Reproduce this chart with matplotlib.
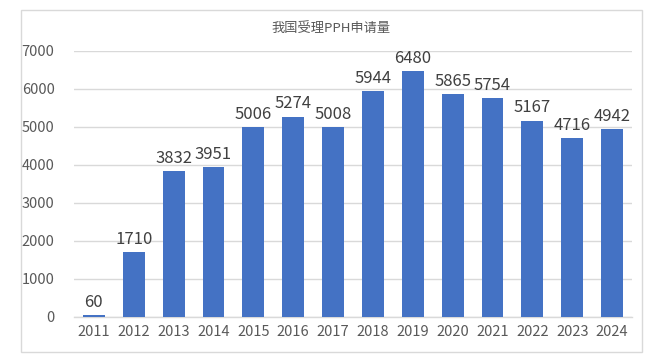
import matplotlib
matplotlib.use("Agg")
import matplotlib.pyplot as plt
from matplotlib.patches import Rectangle

plt.rcParams['font.family'] = ['Noto Sans CJK SC', 'DejaVu Sans']

years = ['2011', '2012', '2013', '2014', '2015', '2016', '2017', '2018',
         '2019', '2020', '2021', '2022', '2023', '2024']
values = [60, 1710, 3832, 3951, 5006, 5274, 5008, 5944, 6480, 5865, 5754, 5167, 4716, 4942]
yticks = [0, 1000, 2000, 3000, 4000, 5000, 6000, 7000]
title = '我国受理PPH申请量'

fig = plt.figure(figsize=(6.49, 3.64), dpi=100)
fig.patch.set_facecolor('white')
fig.patches.append(Rectangle((21/649, 1-352/364), (642-21)/649, (352-10)/364,
                             transform=fig.transFigure, fill=False,
                             edgecolor='#D9D9D9', linewidth=1.0))

ax = fig.add_axes([74/649, 1-317/364, (632-74)/649, (317-51)/364])
x = list(range(len(years)))
bars = ax.bar(x, values, width=0.55, color='#4472C4', zorder=3)
ax.set_xlim(-0.5, len(years)-0.5)
ax.set_ylim(0, 7000)
ax.set_yticks(yticks)
ax.set_yticklabels([str(v) for v in yticks])
ax.set_xticks(x)
ax.set_xticklabels(years)
ax.grid(axis='y', color='#D9D9D9', linewidth=1.0, zorder=0)
for s in ['top', 'right', 'left']:
    ax.spines[s].set_visible(False)
ax.spines['bottom'].set_color('#D9D9D9')
ax.spines['bottom'].set_linewidth(1.0)
ax.tick_params(axis='both', length=0, labelsize=10.5, colors='#595959')
ax.tick_params(axis='y', pad=14)
ax.tick_params(axis='x', pad=6)

for xi, v in zip(x, values):
    ax.annotate(str(v), (xi, v), xytext=(0, 3), textcoords='offset points',
                ha='center', va='bottom', fontsize=12, color='#404040')

fig.text(331/649, 1-28/364, title, ha='center', va='center', fontsize=9.5, color='#595959')

fig.savefig('out.png', dpi=100)
